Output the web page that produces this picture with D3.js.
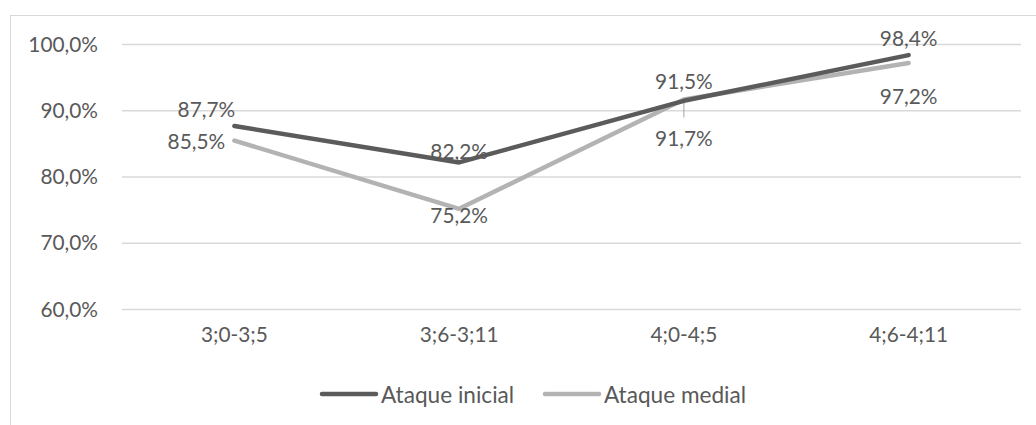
<!DOCTYPE html>
<html>
<head>
<meta charset="utf-8">
<script src="https://cdn.jsdelivr.net/npm/d3@7"></script>
<style>
  html, body { margin: 0; padding: 0; background: #fff; }
  svg { display: block; }
  text { font-family: Lato, "Open Sans", sans-serif; fill: #595959; }
</style>
</head>
<body>
<svg id="chart" width="1036" height="425"></svg>
<script>
// Age bands and percentage of correct productions per syllable onset position
const categories = ["3;0-3;5", "3;6-3;11", "4;0-4;5", "4;6-4;11"];
const ataqueInicial = [87.7, 82.2, 91.5, 98.4];
const ataqueMedial = [85.5, 75.2, 91.7, 97.2];
const seriesNames = ["Ataque inicial", "Ataque medial"];
const yTicks = [60, 70, 80, 90, 100];

const fmt = v => d3.format(".1f")(v).replace(".", ",") + "%";

const W = 1036, H = 425;
const svg = d3.select("#chart");

// outer chart frame
svg.append("rect")
  .attr("x", 10.5).attr("y", 15.5)
  .attr("width", W).attr("height", H)
  .attr("fill", "none").attr("stroke", "#d9d9d9").attr("stroke-width", 1);

const x = d3.scaleBand().domain(categories).range([122, 1021]);
const y = d3.scaleLinear().domain([60, 100]).range([309.5, 44.5]);

// horizontal gridlines
svg.append("g").selectAll("line").data(yTicks).join("line")
  .attr("x1", x.range()[0]).attr("x2", x.range()[1])
  .attr("y1", d => y(d)).attr("y2", d => y(d))
  .attr("stroke", "#d9d9d9").attr("stroke-width", 1.3);

// y axis labels
const yAxis = d3.axisLeft(y).tickValues(yTicks).tickFormat(fmt).tickSize(0).tickPadding(0);
const gy = svg.append("g").attr("transform", "translate(98,0)").call(yAxis);
gy.select(".domain").remove();
gy.selectAll("text").attr("font-size", 20.8).style("fill", "#595959").attr("font-family", "Lato, sans-serif");

// x axis labels
const xAxis = d3.axisBottom(x).tickSize(0).tickPadding(0);
const gx = svg.append("g").attr("transform", "translate(0,327)").call(xAxis);
gx.select(".domain").remove();
gx.selectAll("text").attr("font-size", 20.8).style("fill", "#595959").attr("font-family", "Lato, sans-serif");

const cx = c => x(c) + x.bandwidth() / 2;
const colors = ["#5b5b5b", "#b3b3b3"];
const seriesData = [ataqueInicial, ataqueMedial];

const line = d3.line().x((d, i) => cx(categories[i])).y(d => y(d));

// leader line from the third medial label
svg.append("line")
  .attr("x1", cx(categories[2])).attr("x2", cx(categories[2]))
  .attr("y1", y(ataqueMedial[2])).attr("y2", y(ataqueMedial[2]) + 18)
  .attr("stroke", "#a6a6a6").attr("stroke-width", 1);

// series lines (medial first so the darker line sits on top where they meet)
[1, 0].forEach(s => {
  svg.append("path")
    .datum(seriesData[s])
    .attr("d", line)
    .attr("fill", "none")
    .attr("stroke", colors[s])
    .attr("stroke-width", 4.5)
    .attr("stroke-linecap", "round")
    .attr("stroke-linejoin", "round");
});

// data label offsets (dx, dy of label centre relative to the point)
const labelOffsets = [
  [[-28, -17], [0, -12], [0, -20], [0, -18]],
  [[-38, 0], [0, 6], [0, 38], [0, 32]]
];
seriesData.forEach((vals, s) => {
  svg.append("g").selectAll("text").data(vals).join("text")
    .attr("x", (d, i) => cx(categories[i]) + labelOffsets[s][i][0])
    .attr("y", (d, i) => y(d) + labelOffsets[s][i][1])
    .attr("text-anchor", "middle")
    .attr("dominant-baseline", "central")
    .attr("font-size", 20.8)
    .text(d => fmt(d));
});

// legend
const legendItems = [
  { name: seriesNames[0], color: colors[0], x0: 322 },
  { name: seriesNames[1], color: colors[1], x0: 545 }
];
const lg = svg.append("g");
legendItems.forEach(it => {
  lg.append("line")
    .attr("x1", it.x0).attr("x2", it.x0 + 54)
    .attr("y1", 394).attr("y2", 394)
    .attr("stroke", it.color).attr("stroke-width", 4.5).attr("stroke-linecap", "round");
  lg.append("text")
    .attr("x", it.x0 + 59).attr("y", 394)
    .attr("dominant-baseline", "central")
    .attr("font-size", 22.6)
    .text(it.name);
});
</script>
</body>
</html>
